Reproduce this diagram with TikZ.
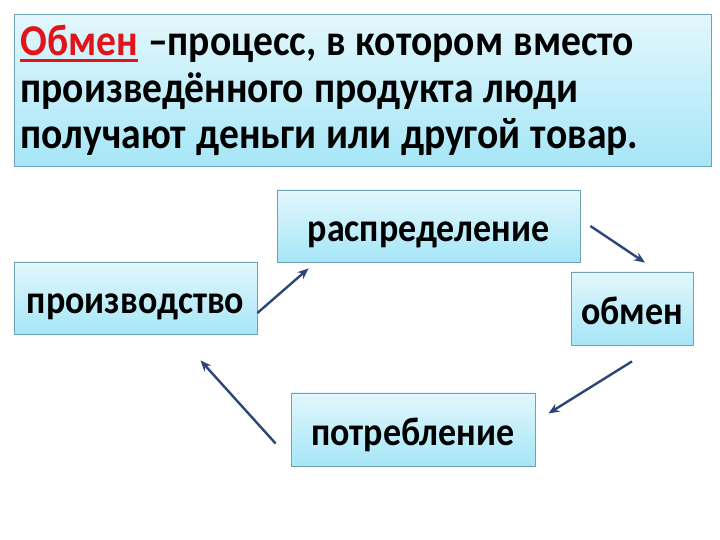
\documentclass[tikz,border=0pt]{standalone}
\usepackage{fontspec}
\setmainfont{Carlito}[FakeStretch=0.9]
\usepackage{tikz}
\usetikzlibrary{arrows.meta,positioning}

\definecolor{boxtop}{HTML}{E2F7FC}
\definecolor{boxbot}{HTML}{A6E6F7}
\definecolor{boxline}{HTML}{6FA3B3}
\definecolor{arrowblue}{HTML}{2C4678}
\definecolor{obred}{HTML}{E0141B}

\newcommand{\redul}[1]{\textcolor{obred}{\setbox0\hbox{#1}\rlap{\rule[-6pt]{\wd0}{3pt}}\box0}}
\newcommand{\tightspace}{\spaceskip=10pt plus 2pt minus 1pt\relax}

\begin{document}
\begin{tikzpicture}[
    x=1pt, y=1pt,
    stage/.style={draw=boxline, line width=0.8pt, rectangle, top color=boxtop, bottom color=boxbot,
        minimum height=72pt, inner sep=0pt, text height=32pt, text depth=0pt,
        font=\fontsize{40}{46}\selectfont\bfseries},
    arr/.style={-{Stealth[length=11pt,width=9pt]}, draw=arrowblue, line width=2.4pt}
]
\useasboundingbox (0,0) rectangle (720,540);

% definition box
\node[stage, anchor=north west, minimum width=697pt, minimum height=152pt, text width=685pt,
    text height=, text depth=, align=left,
    font=\fontsize{44}{46.5}\selectfont\bfseries] (def) at (14,526)
    {\tightspace\redul{Обмен} --процесс, в котором вместо\\произведённого продукта люди\\получают деньги или другой товар.};

% cycle
\node[stage, minimum width=303pt] (distr) at (428.5,314) {распределение};
\node[stage, minimum width=243pt] (prod) at (135.5,242) {производство};
\node[stage, minimum width=122pt, minimum height=73pt] (exch) at (632,231.5) {обмен};
\node[stage, minimum width=244pt, minimum height=73pt] (cons) at (413,110.5) {потребление};

\draw[arr] ([yshift=-15pt]prod.east) -- ([xshift=32pt,yshift=-6pt]distr.south west);
\draw[arr] ([xshift=10pt]distr.east) -- ([xshift=13pt,yshift=9pt]exch.north);
\draw[arr] ([yshift=-16pt]exch.south) -- ([xshift=13pt,yshift=16pt]cons.east);
\draw[arr] ([xshift=-15pt,yshift=-14pt]cons.west) -- ([xshift=65pt,yshift=-26pt]prod.south);
\end{tikzpicture}
\end{document}
